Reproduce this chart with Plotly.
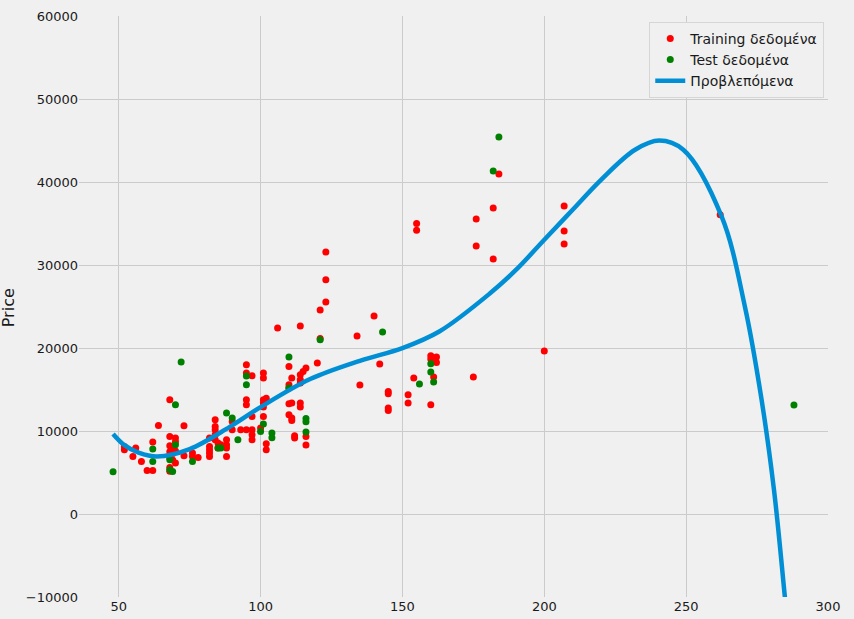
import plotly.graph_objects as go

# Training data (horsepower, price)
train_hp = [52, 52, 55, 56, 58, 60, 62, 62, 64,
            68, 68, 68, 68, 68, 68, 68, 69, 69, 69, 70, 70, 70, 70,
            73, 73, 76, 76, 78,
            82, 82, 82, 82, 82,
            84, 84, 84, 84, 84, 85, 86, 85,
            88, 88, 88, 88,
            90, 90, 93, 95, 97,
            95, 95, 97, 95, 95, 97, 97, 97, 100,
            101, 101, 101, 102, 101, 101, 101, 102, 102,
            106, 114, 121, 123, 123, 123, 121, 120,
            110, 111, 110, 110, 114, 115, 116, 114, 114,
            110, 111, 114, 114, 110, 111, 111, 112, 112, 116, 116,
            134, 140, 142, 135, 145, 145, 145, 145, 152, 152, 154, 155, 155,
            160, 160, 162, 162, 160, 161,
            176, 176, 175, 182, 182, 184, 200, 207, 207, 207, 262]
train_price = [7740, 8140, 6930, 7940, 6330, 5250, 5250, 8670, 10670,
               13760, 9340, 8220, 7500, 6780, 5600, 5150, 8000, 7300, 6500, 9150, 6140, 7600, 8700,
               10630, 7020, 7340, 6930, 6810,
               9150, 8140, 7740, 7340, 6940,
               11350, 10550, 10150, 9550, 8940, 8550, 8340, 7950,
               8940, 8340, 7940, 6930,
               11150, 10150, 10150, 10150, 10150,
               17980, 16980, 16650, 13760, 13160, 11750, 9550, 8940, 10350,
               16980, 16380, 13760, 13950, 13370, 12880, 11750, 8460, 7740,
               22400, 22650, 24570, 25540, 31560, 28225, 21150, 18190,
               17780, 16380, 15570, 15175, 16780, 17180, 17580, 16170, 15780,
               13280, 13370, 13370, 12880, 11960, 11560, 11270, 9425, 9150, 9340, 8300,
               21440, 23850, 18070, 15535, 14765, 14490, 12765, 12475, 14367, 13370, 16380, 35000, 34200,
               19065, 18670, 18910, 18260, 13160, 16500,
               35540, 32285, 16500, 36864, 30720, 40960, 19630, 37100, 34090, 32530, 36060]

# Test data (horsepower, price)
test_hp = [48, 62, 62, 68, 69, 68, 70, 70, 72, 76, 85, 86, 88, 90, 92, 95, 95,
           100, 101, 104, 104, 110, 110, 116, 116, 116, 121, 143, 156, 160, 160, 161,
           182, 184, 288]
test_price = [5100, 7820, 6330, 6540, 5130, 5330, 8340, 13160, 18300, 6330, 7940, 7940,
              12160, 11560, 8940, 15570, 16620, 9940, 10840, 9750, 9200, 18910, 15170,
              11500, 11100, 9870, 21000, 21920, 15660, 18100, 17100, 15900,
              41320, 45420, 13130]

# Predicted curve
pred_hp = [48, 52, 57, 63.5, 75, 89, 100, 117.5, 135, 150, 163, 181, 190, 200,
           210, 220, 232, 240.5, 249, 262.5, 270.7, 276.6, 281, 284.8, 288]
pred_price = [9650, 8300, 7400, 6930, 7820, 10470, 12880, 16260, 18460, 19990, 21990,
              26620, 29400, 33040, 36660, 40270, 43890, 45000, 43890, 35850, 25010,
              13760, 2800, -10000, -21000]

FONT = "DejaVu Sans"

fig = go.Figure()
fig.add_trace(go.Scatter(x=train_hp, y=train_price, mode="markers", name="Training δεδομένα",
                         marker=dict(color="#ff0000", size=7, line=dict(width=0))))
fig.add_trace(go.Scatter(x=test_hp, y=test_price, mode="markers", name="Test δεδομένα",
                         marker=dict(color="#008000", size=7, line=dict(width=0))))
fig.add_trace(go.Scatter(x=pred_hp, y=pred_price, mode="lines", name="Προβλεπόμενα",
                         line=dict(color="#008fd5", width=4.5, shape="spline", smoothing=1.0)))

fig.update_layout(
    width=854, height=619,
    paper_bgcolor="#f0f0f0", plot_bgcolor="#f0f0f0",
    margin=dict(l=79, r=26, t=16, b=22),
    font=dict(family=FONT, size=13, color="#1a1a1a"),
    xaxis=dict(range=[36, 300], tickvals=[50, 100, 150, 200, 250, 300],
               showgrid=True, gridcolor="#cbcbcb", gridwidth=1, zeroline=False,
               showline=False, ticks="", automargin=False, tickfont=dict(size=13, family=FONT)),
    yaxis=dict(range=[-10000, 60000], tickvals=[-10000, 0, 10000, 20000, 30000, 40000, 50000, 60000],
               ticktext=["\u221210000", "0", "10000", "20000", "30000", "40000", "50000", "60000"],
               showgrid=True, gridcolor="#cbcbcb", gridwidth=1, zeroline=False,
               showline=False, ticks="", automargin=False, tickfont=dict(size=13, family=FONT)),
    legend=dict(x=0.995, y=0.99, xanchor="right", yanchor="top",
                bgcolor="#f0f0f0", bordercolor="#d6d6d6", borderwidth=1,
                font=dict(size=14, family=FONT, color="#1a1a1a")),
    showlegend=True,
    annotations=[dict(text="Price", xref="paper", yref="paper",
                      x=(8 - 79) / 749, y=0.497, xanchor="center", yanchor="middle",
                      textangle=-90, showarrow=False,
                      font=dict(size=16, family=FONT, color="#1a1a1a"))],
)

fig.write_html("out.html", config={"displayModeBar": False},
               post_script="document.body.style.margin='0';document.body.style.overflow='hidden';")
